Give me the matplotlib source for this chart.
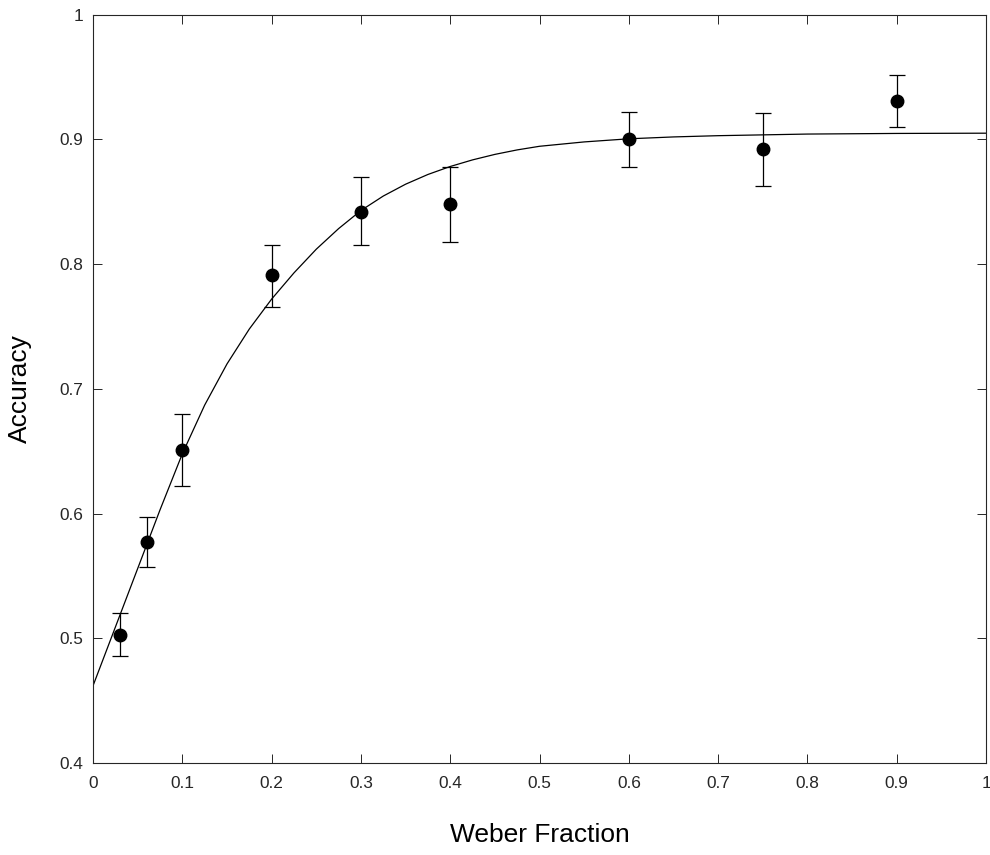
import numpy as np
import matplotlib.pyplot as plt

# measured accuracy per weber fraction
weber = [0.03, 0.06, 0.1, 0.2, 0.3, 0.4, 0.6, 0.75, 0.9]
acc = [0.503, 0.577, 0.651, 0.791, 0.842, 0.848, 0.900, 0.892, 0.931]
err_hi = [0.520, 0.597, 0.680, 0.815, 0.870, 0.878, 0.922, 0.921, 0.952]
err_lo = [0.486, 0.557, 0.622, 0.766, 0.815, 0.818, 0.878, 0.863, 0.910]

# fitted curve
fit_x = [0.0, 0.025, 0.05, 0.075, 0.1, 0.125, 0.15, 0.175, 0.2, 0.225, 0.25,
         0.275, 0.3, 0.325, 0.35, 0.375, 0.4, 0.425, 0.45, 0.475, 0.5, 0.55,
         0.6, 0.65, 0.7, 0.8, 0.9, 1.0]
fit_y = [0.462, 0.509, 0.556, 0.603, 0.648, 0.687, 0.720, 0.748, 0.772, 0.793,
         0.812, 0.8285, 0.843, 0.8546, 0.8641, 0.8719, 0.8783, 0.8836, 0.888,
         0.8916, 0.8945, 0.898, 0.9005, 0.902, 0.903, 0.9043, 0.9048, 0.905]

xticks = [0, 0.1, 0.2, 0.3, 0.4, 0.5, 0.6, 0.7, 0.8, 0.9, 1]
xtick_labels = ['0', '0.1', '0.2', '0.3', '0.4', '0.5', '0.6', '0.7', '0.8', '0.9', '1']
yticks = [0.4, 0.5, 0.6, 0.7, 0.8, 0.9, 1]
ytick_labels = ['0.4', '0.5', '0.6', '0.7', '0.8', '0.9', '1']

plt.rcParams['font.family'] = ['Liberation Sans', 'DejaVu Sans']

fig = plt.figure(figsize=(9.9, 8.55), dpi=100)
ax = fig.add_axes([0.094, 0.1076, 0.902, 0.8752])

acc_a = np.array(acc)
yerr = [acc_a - np.array(err_lo), np.array(err_hi) - acc_a]

ax.plot(fit_x, fit_y, color='black', lw=0.9)
ax.errorbar(weber, acc, yerr=yerr, fmt='o', color='black', ms=9,
            ecolor='black', elinewidth=0.9, capsize=5.8, capthick=0.9)

ax.set_xlim(0, 1)
ax.set_ylim(0.4, 1)
ax.set_xticks(xticks)
ax.set_xticklabels(xtick_labels)
ax.set_yticks(yticks)
ax.set_yticklabels(ytick_labels)
ax.tick_params(direction='in', length=6.3, width=0.7, top=True, right=True,
               labelsize=12.4, colors='#262626')
ax.tick_params(axis='x', pad=9)
ax.tick_params(axis='y', pad=7)
for s in ax.spines.values():
    s.set_color('#262626')
    s.set_linewidth(0.8)

ax.set_xlabel('Weber Fraction', fontsize=19)
ax.set_ylabel('Accuracy', fontsize=19)
ax.xaxis.set_label_coords(0.5, -0.08)
ax.yaxis.set_label_coords(-0.068, 0.5)

fig.savefig('out.png', dpi=100)
